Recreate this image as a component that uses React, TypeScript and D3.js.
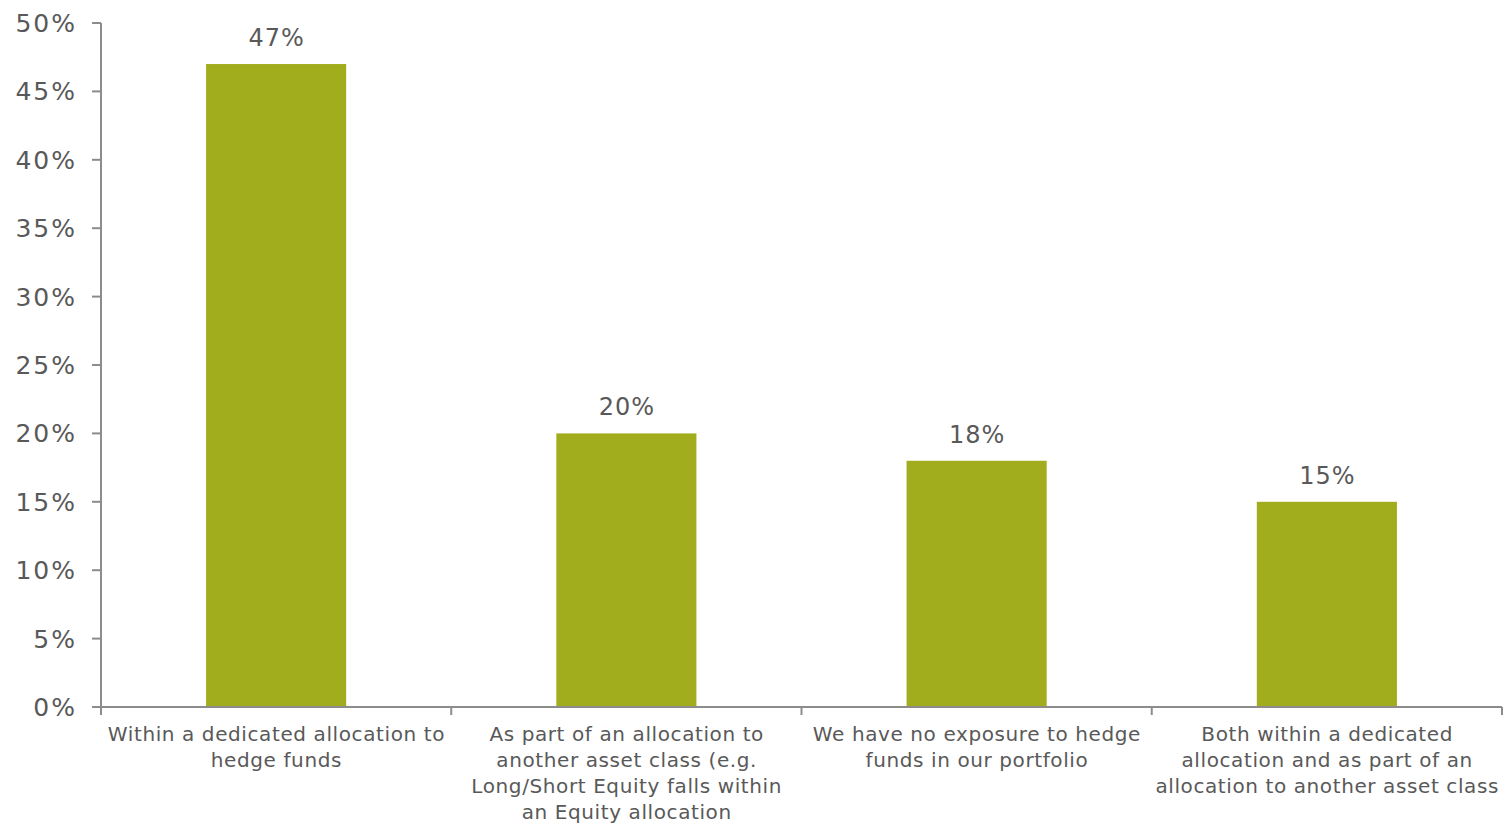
import React from "react";
import * as d3 from "d3";

const categories: string[][] = [
  ["Within a dedicated allocation to", "hedge funds"],
  ["As part of an allocation to", "another asset class (e.g.", "Long/Short Equity falls within", "an Equity allocation"],
  ["We have no exposure to hedge", "funds in our portfolio"],
  ["Both within a dedicated", "allocation and as part of an", "allocation to another asset class"],
];
const values: number[] = [0.47, 0.2, 0.18, 0.15];
const yTicks: number[] = [0, 0.05, 0.1, 0.15, 0.2, 0.25, 0.3, 0.35, 0.4, 0.45, 0.5];

const W = 1503;
const H = 825;
const left = 101;
const right = 1502;
const top = 23;
const bottom = 707;
const textColor = "#595959";
const axisColor = "#8c8c8c";
const barColor = "#A2AD1E";
const font = "Verdana, 'DejaVu Sans', sans-serif";

export default function App() {
  const idx = categories.map((_, i) => String(i));
  const x = d3.scaleBand<string>().domain(idx).range([left, right]).paddingInner(0.6).paddingOuter(0.3);
  const xb = d3.scaleBand<string>().domain(idx).range([left, right]);
  const y = d3.scaleLinear().domain([0, 0.5]).range([bottom, top]);
  const fmt = d3.format(".0%");
  return (
    <svg width={W} height={H} style={{ position: "absolute", left: 0, top: 0, background: "#fff" }} fontFamily={font}>
      {values.map((v, i) => (
        <g key={i}>
          <rect x={x(String(i))} y={y(v)} width={x.bandwidth()} height={y(0) - y(v)} fill={barColor} />
          <text x={x(String(i))! + x.bandwidth() / 2 + 0.5} y={y(v) - 18} textAnchor="middle" fontSize={24} letterSpacing={1} fill={textColor}>
            {fmt(v)}
          </text>
        </g>
      ))}
      <line x1={left} x2={left} y1={top} y2={bottom} stroke={axisColor} strokeWidth={2} />
      {yTicks.map((t) => (
        <g key={t}>
          <line x1={left - 9} x2={left} y1={y(t)} y2={y(t)} stroke={axisColor} strokeWidth={2} />
          <text x={77} y={y(t)} dy="0.36em" textAnchor="end" fontSize={25} letterSpacing={2} fill={textColor}>
            {fmt(t)}
          </text>
        </g>
      ))}
      <line x1={left} x2={right} y1={bottom} y2={bottom} stroke={axisColor} strokeWidth={2} />
      {[...idx.map((d) => xb(d)!), right].map((px, i) => (
        <line key={i} x1={px} x2={px} y1={bottom} y2={bottom + 8} stroke={axisColor} strokeWidth={2} />
      ))}
      {categories.map((lines, i) => (
        <text key={i} textAnchor="middle" fontSize={20} letterSpacing={0.6} fill={textColor}>
          {lines.map((ln, j) => (
            <tspan key={j} x={xb(String(i))! + xb.bandwidth() / 2 + 0.3} y={741 + j * 26}>
              {ln}
            </tspan>
          ))}
        </text>
      ))}
    </svg>
  );
}
